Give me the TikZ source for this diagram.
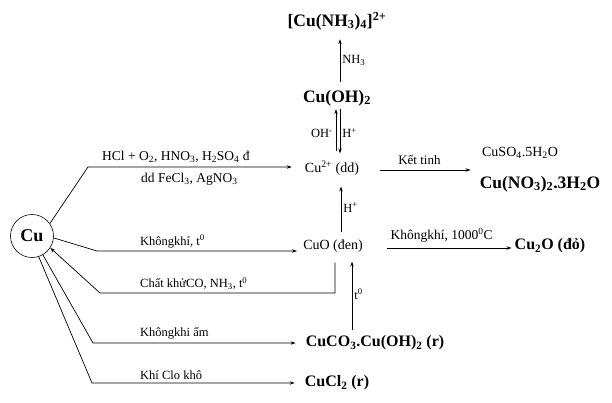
\documentclass[tikz,border=0pt]{standalone}
\usepackage{fontspec}
\setmainfont{Liberation Serif}
\usetikzlibrary{arrows.meta}
\newcommand{\chsub}[1]{\textsubscript{#1}}
\newcommand{\chsup}[1]{\textsuperscript{#1}}
\begin{document}
\begin{tikzpicture}[x=1pt,y=-1pt,
  conn/.style={line width=0.7pt},
  arr/.style={conn,-{Stealth[length=5pt,width=3.4pt]}},
  lbl/.style={font=\fontsize{12.5}{14}\selectfont, inner sep=1pt},
  mid/.style={font=\fontsize{14}{16}\selectfont, inner sep=2pt},
  big/.style={font=\fontsize{16}{18}\selectfont\bfseries, inner sep=2pt},
  bigger/.style={font=\fontsize{17.5}{19}\selectfont\bfseries, inner sep=2pt}]
\useasboundingbox (0,0) rectangle (612,403);
% nodes
\node[draw,circle,line width=0.6pt,minimum size=43pt,inner sep=0pt,font=\fontsize{18}{20}\selectfont\bfseries] (cu) at (32,236) {Cu};
\node[mid] (cu2) at (332,168) {Cu\chsup{2+} (dd)};
\node[bigger] (cuoh2) at (337,98) {Cu(OH)\chsub{2}};
\node[bigger] (cplx) at (337,21) {[Cu(NH\chsub{3})\chsub{4}]\chsup{2+}};
\node[mid] (cuso4) at (520,153) {CuSO\chsub{4}.5H\chsub{2}O};
\node[bigger] (cuno3) at (540,184) {Cu(NO\chsub{3})\chsub{2}.3H\chsub{2}O};
\node[mid] (cuo) at (333,246) {CuO (đen)};
\node[big] (cu2o) at (550,246) {Cu\chsub{2}O (đỏ)};
\node[big] (cuco3) at (375,343) {CuCO\chsub{3}.Cu(OH)\chsub{2} (r)};
\node[big] (cucl2) at (337,383) {CuCl\chsub{2} (r)};
% bend points
\coordinate (b1) at (88,167);
\coordinate (b2) at (97,251);
\coordinate (b3) at (100,293);
\coordinate (b4) at (93,343);
\coordinate (b5) at (92,383);
% connectors from Cu
\draw[arr,shorten >=11pt] (cu.35) -- (b1) -- (b1 -| cu2.west);
\draw[arr,shorten >=4pt] (cu.-5) -- (b2) -- (b2 -| cuo.west);
\draw[arr] ([xshift=2pt,yshift=-8pt]cuo.south) -- ([xshift=2pt]cuo.south |- b3) -- (b3) -- (cu.-33);
\draw[arr,shorten >=8pt] (cu.-60) -- (b4) -- (b4 -| cuco3.west);
\draw[arr,shorten >=8pt] (cu.-72) -- (b5) -- (b5 -| cucl2.west);
% labels on Cu connectors
\node[lbl,anchor=south west,font=\fontsize{13.5}{15}\selectfont] (l1) at (101,164) {HCl + O\chsub{2}, HNO\chsub{3}, H\chsub{2}SO\chsub{4} đ};
\node[lbl,anchor=north west,font=\fontsize{13.5}{15}\selectfont] (l1b) at (140,172) {dd FeCl\chsub{3}, AgNO\chsub{3}};
\node[lbl,anchor=south west] (l2) at (139,249) {Khôngkhí, t\chsup{0}};
\node[lbl,anchor=south west] (l3) at (139,291) {Chất khửCO, NH\chsub{3}, t\chsup{0}};
\node[lbl,anchor=south west] (l4) at (139,340) {Khôngkhi ẩm};
\node[lbl,anchor=south west] (l5) at (139,381) {Khí Clo khô};
% vertical reactions
\draw[arr,shorten <=6pt,shorten >=7pt] ([xshift=3pt]cuoh2.north) -- ([xshift=3pt]cuoh2.north |- cplx.south)
  node[lbl,midway,right=1pt] (lnh3) {NH\chsub{3}};
\draw[arr,shorten <=7pt,shorten >=1pt] ([xshift=-1pt]cuoh2.south |- cu2.north) -- ([xshift=-1pt]cuoh2.south)
  node[lbl,midway,left=2pt] (loh) {OH\chsup{-}};
\draw[arr,shorten <=1pt,shorten >=5pt] ([xshift=3pt]cuoh2.south) -- ([xshift=3pt]cuoh2.south |- cu2.north)
  node[lbl,midway,right=1pt] (lh1) {H\chsup{+}};
\draw[arr,shorten <=5pt,shorten >=9pt] ([xshift=8pt]cuo.north) -- ([xshift=8pt]cuo.north |- cu2.south)
  node[lbl,midway,right=1pt] (lh2) {H\chsup{+}};
\draw[arr,shorten <=4pt,shorten >=7pt] ([xshift=-23pt]cuco3.north) -- ([xshift=-23pt]cuco3.north |- cuo.south)
  node[lbl,midway,right=1pt] (lt) {t\chsup{0}};
% horizontal reactions
\draw[arr,shorten <=19pt,shorten >=7pt] ([yshift=-2pt]cu2.east) -- ([yshift=-2pt]cu2.east -| cuno3.west)
  node[lbl,pos=0.5,above=4pt,font=\fontsize{13}{15}\selectfont] (lkt) {Kết tinh};
\draw[arr,shorten <=22pt,shorten >=1pt] ([yshift=-2pt]cuo.east) -- ([yshift=-2pt]cuo.east -| cu2o.west)
  node[lbl,pos=0.52,above=4pt,font=\fontsize{13.5}{15}\selectfont] (lkk) {Khôngkhí, 1000\chsup{0}C};
\end{tikzpicture}
\end{document}
